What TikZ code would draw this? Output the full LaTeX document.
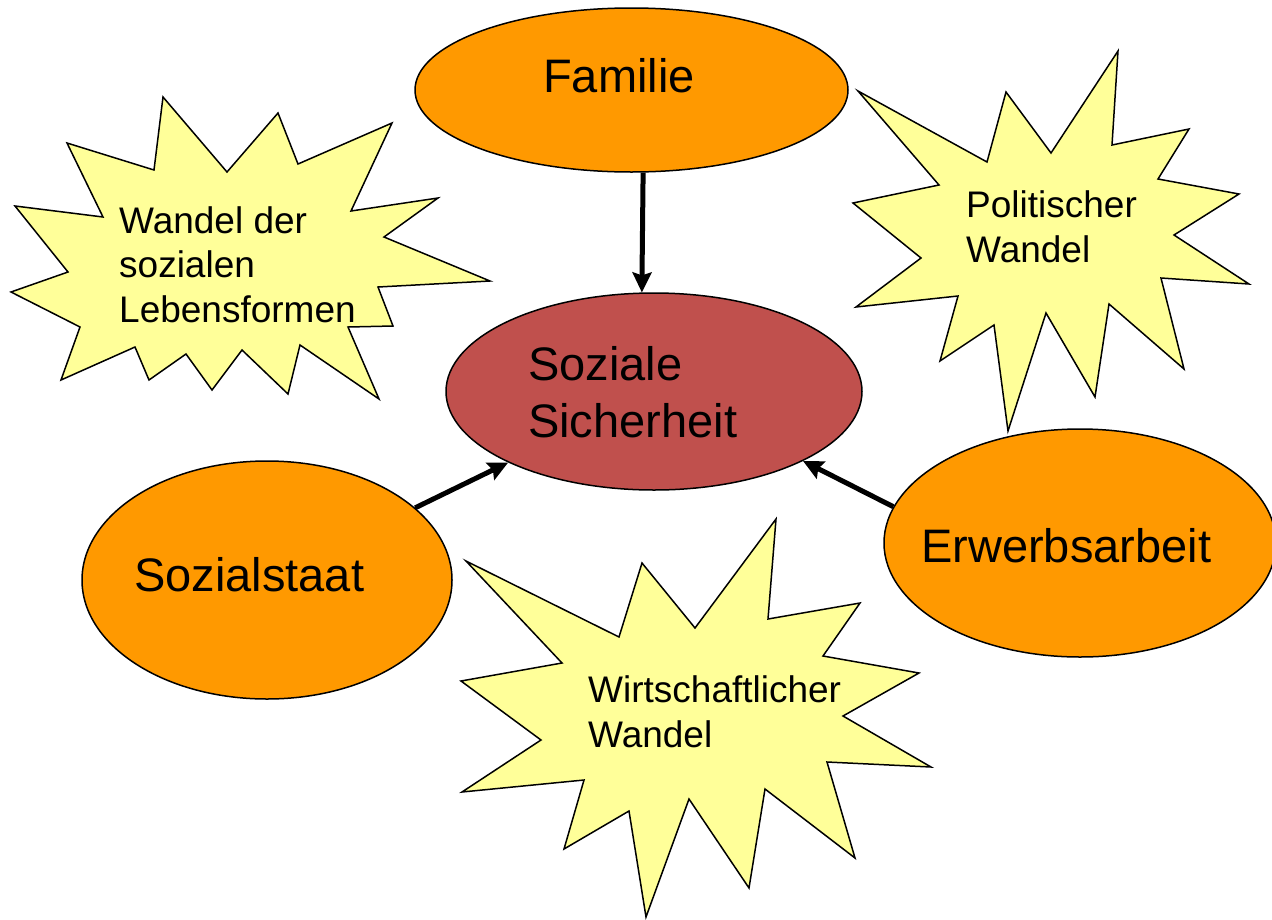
\documentclass[tikz,border=0pt]{standalone}
\usepackage{fontspec}
\setmainfont{Liberation Sans}
\usetikzlibrary{arrows.meta,shapes.geometric}
\definecolor{orng}{HTML}{FF9900}
\definecolor{rd}{HTML}{C0504D}
\definecolor{yel}{HTML}{FFFF99}
\tikzset{
 blob/.style={ellipse, draw=black, line width=1.5pt, inner sep=0pt},
 burst/.style={draw=black, fill=yel, line width=1.5pt, line join=miter},
 bigtxt/.style={anchor=base west, inner sep=0pt, align=left, font=\fontsize{47}{57}\selectfont},
 smalltxt/.style={anchor=base west, inner sep=0pt, align=left, font=\fontsize{37}{44.5}\selectfont},
 arr/.style={line width=5pt, -{Stealth[length=20pt,width=19pt,inset=3pt]}}
}
\begin{document}
\begin{tikzpicture}[x=1pt,y=-1pt]
\useasboundingbox (0,0) rectangle (1272,919);
% starbursts
\draw[burst] (163,97) -- (227,172) -- (278,113) -- (298,164) -- (392,123) -- (351,211) -- (438,198) -- (384,237) -- (490,281) -- (378,287) -- (393,326) -- (348,327) -- (379,399) -- (300,345) -- (288,394) -- (242,350) -- (212,390) -- (186,354) -- (149,380) -- (135,347) -- (61,380) -- (80,327) -- (11,292) -- (68,272) -- (15,206) -- (103,217) -- (67,143) -- (154,170) -- cycle;
\draw[burst] (1118,51) -- (1112,145) -- (1189,129) -- (1158,179) -- (1239,194) -- (1174,235) -- (1249,284) -- (1161,278) -- (1184,369) -- (1109,304) -- (1095,397) -- (1046,313) -- (1008,431) -- (994,325) -- (940,361) -- (958,296) -- (856,307) -- (921,258) -- (853,203) -- (939,185) -- (858,91) -- (987,162) -- (1006,92) -- (1051,153) -- cycle;
\draw[burst] (776,519) -- (768,619) -- (860,603) -- (823,656) -- (919,673) -- (843,716) -- (931,767) -- (827,762) -- (855,858) -- (765,789) -- (749,888) -- (689,799) -- (646,917) -- (629,811) -- (564,849) -- (584,780) -- (462,792) -- (541,740) -- (461,681) -- (562,663) -- (466,561) -- (619,637) -- (642,563) -- (695,628) -- cycle;
\node[smalltxt] (t1) at (119,322) {Wandel der\\sozialen\\Lebensformen};
\node[smalltxt] (t2) at (966,262) {Politischer\\Wandel};
\node[smalltxt] (t3) at (588,747) {Wirtschaftlicher\\Wandel};
% ellipses
\node[blob, fill=orng, minimum width=433pt, minimum height=164pt] (fam) at (631.5,90) {};
\node[blob, fill=rd, minimum width=416pt, minimum height=197pt] (ss) at (654,391.5) {};
\node[blob, fill=orng, minimum width=370pt, minimum height=238pt] (staat) at (267,580) {};
\node[blob, fill=orng, minimum width=392pt, minimum height=228pt] (erw) at (1080,543) {};
\node[bigtxt] (famt) at (543,92) {Familie};
\node[bigtxt] (sst) at (528,437) {Soziale\\Sicherheit};
\node[bigtxt] (staatt) at (134,591) {Sozialstaat};
\node[bigtxt] (erwt) at (921,562) {Erwerbsarbeit};
% arrows
\draw[arr] (fam.-82.8) -- (ss.97.5);
\draw[arr] (staat) -- (ss);
\draw[arr] (erw.169.6) -- (ss.-25.9);
\end{tikzpicture}
\end{document}
